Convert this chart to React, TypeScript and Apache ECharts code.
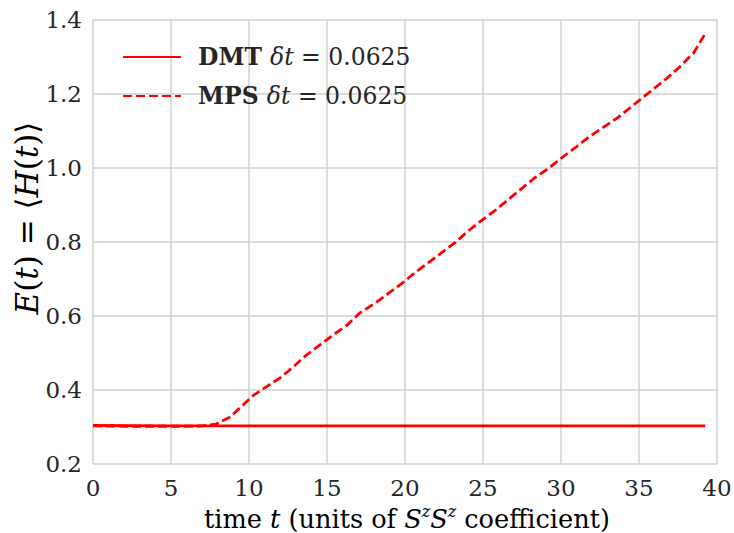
import React, { useEffect, useRef } from "react";
import * as echarts from "echarts";

// Energy expectation value versus time for the two solvers.
const dmtTimes = [0, 5, 10, 15, 20, 25, 30, 35, 39.25];
const dmtEnergy = [0.304, 0.303, 0.303, 0.303, 0.303, 0.303, 0.303, 0.303, 0.303];

const mpsTimes = [
  0, 2, 4, 6, 7, 7.9, 8.8, 9.5, 10.3, 11.2, 12.1, 12.9, 13.7, 14.55, 15.4, 16.3,
  17.1, 18.1, 19, 19.8, 20.6, 21.5, 22.35, 23.2, 24, 24.9, 25.8, 26.6, 27.5, 28.3,
  29.2, 30, 31, 31.7, 33.6, 35.2, 36.8, 37.6, 38.5, 39.2,
];
const mpsEnergy = [
  0.303, 0.302, 0.302, 0.302, 0.303, 0.308, 0.327, 0.355, 0.386, 0.411, 0.436,
  0.465, 0.495, 0.522, 0.549, 0.576, 0.608, 0.635, 0.663, 0.688, 0.716, 0.744,
  0.771, 0.798, 0.828, 0.858, 0.886, 0.914, 0.945, 0.973, 0.999, 1.026, 1.058,
  1.081, 1.135, 1.189, 1.243, 1.273, 1.311, 1.36,
];

const xTicks = [0, 5, 10, 15, 20, 25, 30, 35, 40];
const yTicks = [0.2, 0.4, 0.6, 0.8, 1.0, 1.2, 1.4];

const seriesNames = ["DMT", "MPS"];
const timeStep = "0.0625";

const FONT = "DejaVu Serif";
const TEXT = "#262626";
const GRID = "#d0d0d0";
const RED = "#ff0000";

const zip = (xs: number[], ys: number[]) => xs.map((x, i) => [x, ys[i]]);

const richSet = (size: number, lineHeight: number) => {
  const base = { fontFamily: FONT, fontSize: size, color: TEXT, lineHeight };
  return {
    r: { ...base },
    i: { ...base, fontStyle: "italic" },
    b: { ...base, fontWeight: "bold" },
    sup: {
      fontFamily: FONT,
      fontSize: Math.round(size * 0.62),
      fontStyle: "italic",
      color: TEXT,
      lineHeight: Math.round(size * 0.7),
      verticalAlign: "top",
    },
  };
};

export default function App() {
  const ref = useRef<HTMLDivElement>(null);

  useEffect(() => {
    if (!ref.current) return;
    const chart = echarts.init(ref.current, null, { renderer: "svg" });

    chart.setOption({
      animation: false,
      backgroundColor: "#ffffff",
      textStyle: { fontFamily: FONT },
      grid: {
        left: 93,
        right: 17,
        top: 20,
        bottom: 69,
        containLabel: false,
        outerBoundsMode: "none",
      },
      xAxis: {
        type: "value",
        min: xTicks[0],
        max: xTicks[xTicks.length - 1],
        interval: xTicks[1] - xTicks[0],
        axisLine: { show: false },
        axisTick: { show: false },
        axisLabel: {
          fontFamily: FONT,
          fontSize: 23,
          color: TEXT,
          margin: 12,
          formatter: (v: number) => String(v),
        },
        splitLine: { show: true, lineStyle: { color: GRID, width: 1.5 } },
      },
      yAxis: {
        type: "value",
        min: yTicks[0],
        max: yTicks[yTicks.length - 1],
        interval: 0.2,
        axisLine: { show: false },
        axisTick: { show: false },
        axisLabel: {
          fontFamily: FONT,
          fontSize: 23,
          color: TEXT,
          margin: 11,
          formatter: (v: number) => v.toFixed(1),
        },
        splitLine: { show: true, lineStyle: { color: GRID, width: 1.5 } },
      },
      legend: {
        orient: "vertical",
        left: 117,
        top: 40,
        itemWidth: 58,
        itemHeight: 14,
        itemGap: 15,
        data: seriesNames,
        itemStyle: { color: "transparent", borderColor: "transparent", borderWidth: 0 },
        formatter: (name: string) => `{b|${name} }{i|δt}{r| = ${timeStep}}`,
        textStyle: {
          fontFamily: FONT,
          padding: [0, 0, 0, 12],
          rich: richSet(23.5, 28),
        },
      },
      graphic: [
        {
          type: "text",
          x: 27,
          y: 218,
          rotation: Math.PI / 2,
          style: {
            text: "{i|E}{r|(}{i|t}{r|) = ⟨}{i|H}{r|(}{i|t}{r|)⟩}",
            rich: richSet(31, 36),
            align: "center",
            verticalAlign: "middle",
          },
        },
        {
          type: "text",
          x: 407,
          y: 519,
          style: {
            text:
              "{r|time }{i|t}{r| (units of }{i|S}{sup|z}{i|S}{sup|z}{r| coefficient)}",
            rich: richSet(25.6, 32),
            align: "center",
            verticalAlign: "middle",
          },
        },
      ],
      series: [
        {
          name: seriesNames[0],
          type: "line",
          data: zip(dmtTimes, dmtEnergy),
          symbol: "none",
          lineStyle: { color: RED, width: 2.8, type: "solid" },
          itemStyle: { color: RED },
        },
        {
          name: seriesNames[1],
          type: "line",
          data: zip(mpsTimes, mpsEnergy),
          symbol: "none",
          lineStyle: { color: RED, width: 2.8, type: [9, 4] },
          itemStyle: { color: RED },
        },
      ],
    });

    return () => chart.dispose();
  }, []);

  return (
    <div
      ref={ref}
      style={{ position: "fixed", left: 0, top: 0, width: 734, height: 533, background: "#fff" }}
    />
  );
}
